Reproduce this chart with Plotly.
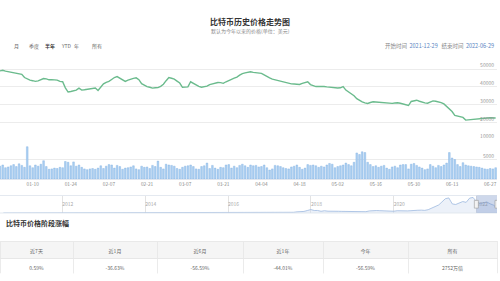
import pandas as pd
import plotly.graph_objects as go

# ---------------- data ----------------
start_date = "2021-12-29"
end_date = "2022-06-29"

price = [
    49000, 49400, 48900, 48600, 48500, 48200, 48000, 47600, 47100, 45300,
    44500, 43800, 43500, 43100, 43400, 44000, 44700, 44500, 44000, 44100,
    43900, 43800, 43100, 42900, 39500, 37100, 37400, 37800, 38200, 39300,
    38200, 38400, 38600, 39200, 39300, 39400, 38000, 40200, 41700, 42600,
    43100, 44200, 45300, 45800, 44900, 43900, 43100, 43800, 44400, 44800,
    45100, 44100, 41800, 40900, 40200, 39800, 39300, 39500, 39600, 40300,
    41500, 43500, 45300, 44900, 44400, 43300, 42200, 39800, 39900, 40000,
    42900, 42000, 41100, 40300, 39800, 40000, 40400, 41300, 41800, 42300,
    42500, 42400, 42000, 42900, 43800, 44300, 44900, 45500, 46600, 47500,
    47900, 48400, 48500, 48200, 48000, 47800, 47600, 46800, 45800, 45100,
    44400, 44000, 43500, 43200, 42600, 42200, 41900, 41700, 41600, 41500,
    41400, 42000, 42600, 42900, 41300, 40700, 40200, 40300, 40400, 40200,
    40000, 39800, 39500, 39300, 39400, 39500, 40200, 38200, 37200, 36300,
    35000, 33400, 32400, 31600, 31000, 30700, 31200, 31600, 31500, 31300,
    31200, 31100, 31000, 30900, 30700, 30900, 31100, 30800, 30400, 30200,
    29500, 31800, 32300, 32500, 31900, 31300, 31000, 30800, 31500, 32100,
    31900, 31600, 31100, 30400, 29000, 27500, 26100, 23900, 23500, 23000,
    22800, 21300, 21500, 21600, 21900, 22000, 22100, 22200, 22300, 22500,
    22600, 22500, 22500,
]

volume = [
    3300, 3600, 2900, 3100, 3400, 3700, 3200, 3900, 3500, 3000,
    8300, 3400, 2900, 3600, 3300, 3800, 4700, 3200, 2500, 2600,
    2800, 2700, 3000, 2900, 4500, 4300, 3400, 4400, 3300, 3600,
    3000, 2600, 2400, 2600, 2700, 2500, 2800, 3400, 2700, 3300,
    3700, 3600, 2800, 3500, 3200, 2500, 2800, 2900, 3100, 3400,
    2600, 2400, 3300, 3000, 3100, 2700, 3500, 3200, 4600, 3000,
    2600, 3800, 3600, 3500, 3300, 2700, 2500, 3000, 3300, 3400,
    3600, 3200, 2600, 2500, 3200, 3400, 4100, 2700, 3500, 2800,
    2500, 3000, 2900, 3600, 3700, 2800, 3300, 2900, 3500, 3800,
    3400, 3000, 3600, 3400, 3500, 3100, 3200, 3600, 2900, 2300,
    2600, 3500, 3400, 3200, 2900, 2700, 2600, 3100, 3300, 3600,
    3000, 2500, 2800, 3700, 3500, 3600, 3400, 3000, 3300, 3100,
    3600, 4000, 3800, 2900, 3200, 3400, 3600, 4100, 3700, 3400,
    4300, 6700, 6300, 7000, 6800, 4300, 3700, 3200, 3400, 3000,
    3300, 3500, 2800, 2500, 3100, 3300, 2900, 3600, 3700, 3700,
    2600, 3800, 4000, 3500, 3100, 2800, 2400, 2600, 3700, 3300,
    2900, 3500, 3200, 3600, 4100, 6800, 5400, 5000, 3700, 3200,
    4200, 3600, 3400, 3300, 3200, 3100, 3000, 2800, 2600, 2500,
    2700, 2600, 2900,
]

# monthly closes for the navigator (2010-07 .. 2022-06)
nav_start = "2010-07-31"
nav_values = [
    0.07, 0.06, 0.06, 0.19, 0.21, 0.30,
    0.5, 0.9, 0.8, 3.5, 8.7, 16.7, 13.4, 8.2, 5.1, 3.2, 3.0, 4.7,
    5.5, 4.9, 4.9, 5.0, 5.2, 6.7, 9.4, 10.2, 12.4, 11.2, 12.6, 13.5,
    20, 33, 93, 139, 129, 97, 106, 135, 141, 211, 1205, 805,
    938, 573, 457, 448, 630, 640, 586, 477, 387, 338, 378, 320,
    217, 254, 244, 236, 230, 264, 284, 230, 236, 314, 377, 430,
    369, 437, 416, 448, 531, 673, 624, 574, 609, 698, 742, 964,
    970, 1190, 1080, 1350, 2300, 2480, 2880, 4700, 4340, 6470, 10200, 14150,
    10220, 10400, 6970, 9240, 7500, 6400, 7730, 7030, 6630, 6320, 4020, 3740,
    3460, 3850, 4100, 5350, 8570, 10800, 10100, 9600, 8300, 9200, 7570, 7190,
    9350, 8600, 6440, 8660, 9460, 9140, 11350, 11680, 10780, 13800, 19700, 29000,
    33100, 45200, 58900, 62000, 37300, 35000, 41500, 47100, 43800, 61300, 64000, 46300,
    38500, 43200, 45500, 37700, 31800, 19800,
]

vol_ticks = ["2022-01-10", "2022-01-24", "2022-02-07", "2022-02-21", "2022-03-07",
             "2022-03-21", "2022-04-04", "2022-04-18", "2022-05-02", "2022-05-16",
             "2022-05-30", "2022-06-13", "2022-06-27"]
year_ticks = ["2012-01-01", "2014-01-01", "2016-01-01", "2018-01-01", "2020-01-01", "2022-01-01"]

price_ticks = [10000, 20000, 30000, 40000, 50000, 60000]
price_ticktext = ["", "20000", "30000", "40000", "50000", ""]
vol_tickvals = [0, 5000, 10000]
vol_ticktext = ["", "5000", "10000"]

buttons = ["月", "季度", "半年", "YTD", "年", "所有"]
selected_button = "半年"

period_labels = ["近7天", "近1月", "近6月", "近1年", "今年", "所有"]
period_values = ["0.59%", "-36.63%", "-56.59%", "-44.01%", "-56.59%", "2752万倍"]

title = "比特币历史价格走势图"
subtitle = "默认为今年以来的价格(单位：美元)"
section_title = "比特币价格阶段涨幅"

# ---------------- figure ----------------
dates = pd.date_range(start_date, end_date, freq="D")
assert len(dates) == len(price) == len(volume)
nav_dates = pd.date_range(nav_start, periods=len(nav_values), freq="ME")

W, H = 500, 281
CJK = "Noto Sans CJK SC"
view_end = "2022-06-29 12:00"


def py(px):  # pixel from top -> paper y
    return 1 - px / H


fig = go.Figure()

fig.add_trace(go.Scatter(
    x=dates, y=price, mode="lines", xaxis="x", yaxis="y",
    line=dict(color="#6bbb8d", width=1.4), hoverinfo="skip", showlegend=False))

fig.add_trace(go.Bar(
    x=dates, y=volume, xaxis="x2", yaxis="y2",
    marker=dict(color="#acd0f2", line=dict(color="#7eaee0", width=0.4)),
    hoverinfo="skip", showlegend=False))

fig.add_trace(go.Scatter(
    x=nav_dates, y=nav_values, mode="lines", xaxis="x3", yaxis="y3",
    line=dict(color="#9db9e0", width=0.8), fill="tozeroy",
    fillcolor="rgba(200,215,238,0.35)", hoverinfo="skip", showlegend=False))

xdom = [0, 497 / W]
axis_font = dict(family=CJK, size=5, color="#999")
vol_dom = [py(176), py(136)]

fig.update_layout(
    width=W, height=H, margin=dict(l=0, r=0, t=0, b=0),
    paper_bgcolor="white", plot_bgcolor="white", bargap=0.38,
    xaxis=dict(domain=xdom, range=[start_date, view_end], showgrid=False,
               showticklabels=False, zeroline=False, anchor="y"),
    yaxis=dict(domain=[py(136), py(44.7)], range=[10000, 60000], side="right",
               tickvals=price_ticks, ticktext=price_ticktext,
               ticklabelposition="inside top", ticklabeloverflow="allow",
               gridcolor="#ececec", gridwidth=0.8,
               zeroline=False, tickfont=axis_font, anchor="x"),
    xaxis2=dict(domain=xdom, range=[start_date, view_end], showgrid=False,
                tickvals=vol_ticks, tickformat="%m-%d", ticks="",
                ticklabeloverflow="allow",
                tickfont=dict(family=CJK, size=4.8, color="#888"), zeroline=False,
                showline=True, linecolor="#dfe5ee", linewidth=0.8, anchor="y2"),
    yaxis2=dict(domain=vol_dom, range=[0, 10000], side="right",
                tickvals=vol_tickvals, ticktext=vol_ticktext,
                ticklabelposition="inside top", ticklabeloverflow="allow",
                gridcolor="#ececec", gridwidth=0.8,
                zeroline=False, tickfont=axis_font, anchor="x2"),
    xaxis3=dict(domain=xdom, range=["2010-07-01", end_date],
                tickvals=year_ticks, tickformat="%Y", ticks="",
                ticklabelposition="inside right", ticklabeloverflow="allow",
                showgrid=True, gridcolor="#e3e3e3", gridwidth=0.8, zeroline=False,
                tickfont=dict(family=CJK, size=5, color="#aaa"), anchor="y3"),
    yaxis3=dict(domain=[py(211), py(193)], range=[0, 72000], visible=False,
                anchor="x3"),
)

shapes = []
# navigator border lines
for ypx in (193, 211):
    shapes.append(dict(type="line", xref="paper", yref="paper", x0=0, x1=xdom[1],
                       y0=py(ypx), y1=py(ypx), line=dict(color="#dde3ec", width=0.8)))
# selected window
shapes.append(dict(type="rect", xref="x3", yref="paper", x0=start_date, x1=end_date,
                   y0=py(211), y1=py(193), fillcolor="rgba(102,133,194,0.32)",
                   line=dict(width=0), layer="above"))
for d in (start_date, end_date):
    shapes.append(dict(type="rect", xref="x3", yref="paper", xsizemode="pixel",
                       xanchor=d, x0=-2, x1=2, y0=py(206), y1=py(198),
                       fillcolor="#f2f2f2", line=dict(color="#999", width=0.6)))
fig.update_layout(shapes=shapes)

ann = []
ann.append(dict(text=f"<b>{title}</b>", x=0.5, y=py(6.5), xref="paper", yref="paper",
                showarrow=False, font=dict(family=CJK, size=8, color="#333")))
ann.append(dict(text=subtitle, x=0.5, y=py(18), xref="paper", yref="paper",
                showarrow=False, font=dict(family=CJK, size=5, color="#888")))
btn_x = [12, 27, 43, 59, 72, 90]
for b, bx in zip(buttons, btn_x):
    sel = b == selected_button
    ann.append(dict(text=f"<b>{b}</b>" if sel else b, x=bx / W, y=py(33),
                    xref="paper", yref="paper", showarrow=False,
                    font=dict(family=CJK, size=5, color="#333" if sel else "#666")))
ann.append(dict(
    text=(f"开始时间  <span style='color:#5a86c2'>{start_date}</span>   "
          f"结束时间  <span style='color:#5a86c2'>{end_date}</span>"),
    x=496 / W, y=py(33), xref="paper", yref="paper", xanchor="right",
    showarrow=False, font=dict(family=CJK, size=5.5, color="#888")))
ann.append(dict(text=f"<b>{section_title}</b>", x=4 / W, y=py(228), xref="paper",
                yref="paper", xanchor="left", showarrow=False,
                font=dict(family=CJK, size=7, color="#333")))
fig.update_layout(annotations=ann)

fig.add_trace(go.Table(
    domain=dict(x=[0, 497 / W], y=[py(273), py(240)]),
    columnwidth=[73, 84, 86, 80, 85, 89],
    header=dict(values=period_labels, fill_color="#f5f5f5",
                line=dict(color="#e6e6e6", width=0.8), align="center", height=17,
                font=dict(family=CJK, size=5, color="#666")),
    cells=dict(values=[[v] for v in period_values], fill_color="white",
               line=dict(color="#e6e6e6", width=0.8), align="center", height=16,
               font=dict(family=CJK, size=5, color="#666")),
))

fig.write_html("out.html")
